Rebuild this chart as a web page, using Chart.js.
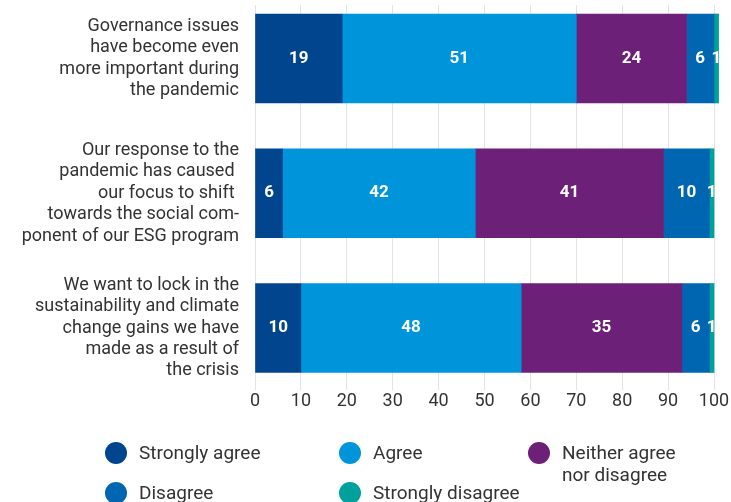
<!DOCTYPE html>
<html>
<head>
<meta charset="utf-8">
<script src="https://cdn.jsdelivr.net/npm/chart.js@4"></script>
<style>
  html, body { margin: 0; padding: 0; background: #fff; }
  body { width: 731px; height: 502px; position: relative; overflow: hidden; font-family: Roboto, sans-serif; }
  #wrap { position: absolute; left: 0; top: 0; width: 731px; height: 420px; }
  #legend { position: absolute; left: 0; top: 0; width: 731px; height: 502px; pointer-events: none; }
  .item { position: absolute; display: flex; align-items: flex-start; font-size: 19px; line-height: 22px; color: #333; }
  .dot { width: 22px; height: 22px; border-radius: 50%; margin-right: 12px; flex: none; }
</style>
</head>
<body>
<div id="wrap"><canvas id="c"></canvas></div>
<div id="legend"></div>
<script>
const questions = [
  ["Governance issues", "have become even", "more important during", "the pandemic"],
  ["Our response to the", "pandemic has caused ", "our focus to shift ", "towards the social com-", "ponent of our ESG program"],
  ["We want to lock in the", "sustainability and climate", "change gains we have", "made as a result of", "the crisis"]
];
const seriesNames = ["Strongly agree", "Agree", "Neither agree\nnor disagree", "Disagree", "Strongly disagree"];
const seriesColors = ["#00458E", "#0095DA", "#6D2077", "#0066B1", "#00A19C"];
const stronglyAgree = [19, 6, 10];
const agree = [51, 42, 48];
const neither = [24, 41, 35];
const disagree = [6, 10, 6];
const stronglyDisagree = [1, 1, 1];
const xTicks = [0, 10, 20, 30, 40, 50, 60, 70, 80, 90, 100];

const seriesValues = [stronglyAgree, agree, neither, disagree, stronglyDisagree];

// white value labels in the middle of each segment
const valueLabels = {
  id: "valueLabels",
  afterDatasetsDraw(chart) {
    const ctx = chart.ctx;
    ctx.save();
    ctx.fillStyle = "#fff";
    ctx.font = "bold 17px Roboto, sans-serif";
    ctx.textAlign = "center";
    ctx.textBaseline = "middle";
    chart.data.datasets.forEach((ds, i) => {
      chart.getDatasetMeta(i).data.forEach((bar, j) => {
        const p = bar.getCenterPoint();
        ctx.fillText(String(ds.data[j].x), p.x, p.y);
      });
    });
    ctx.restore();
  }
};

const chart = new Chart(document.getElementById("c"), {
  type: "bar",
  data: {
    datasets: seriesNames.map((name, i) => ({
      label: name,
      data: seriesValues[i].map((v, j) => ({ x: v, y: j })),
      backgroundColor: seriesColors[i],
      borderWidth: 0,
      barThickness: 89,
      clip: false
    }))
  },
  options: {
    indexAxis: "y",
    responsive: true, maintainAspectRatio: false,
    animation: false,
    layout: { padding: { top: 5, right: 17, left: 0, bottom: 0 } },
    plugins: { legend: { display: false }, tooltip: { enabled: false } },
    scales: {
      x: {
        type: "linear", stacked: true, min: 0, max: 100,
        afterBuildTicks: s => { s.ticks = xTicks.map(v => ({ value: v })); },
        afterFit: s => { s.height = 35; s.paddingLeft = 0; },
        grid: { color: "#e3e3e3", tickLength: 5 },
        border: { display: false },
        ticks: { color: "#333", padding: 1, font: { family: "Roboto", size: 18 } }
      },
      y: {
        type: "linear", stacked: true, reverse: true, offset: false,
        min: -0.397, max: 2.423,
        afterBuildTicks: s => { s.ticks = questions.map((q, i) => ({ value: i })); },
        afterFit: s => { s.width = 255; s.paddingTop = 0; s.paddingBottom = 0; },
        grid: { display: false, drawTicks: false },
        border: { display: false },
        ticks: {
          color: "#333", padding: 16,
          font: { family: "Roboto", size: 18, lineHeight: 1.19 },
          callback: v => questions[v]
        }
      }
    }
  },
  plugins: [valueLabels]
});

// html legend in a 3-column grid
const legendPos = [[105, 442], [339, 442], [528, 442], [105, 482], [339, 482]];
const legend = document.getElementById("legend");
chart.data.datasets.forEach((ds, i) => {
  const el = document.createElement("div");
  el.className = "item";
  el.style.left = legendPos[i][0] + "px";
  el.style.top = legendPos[i][1] + "px";
  const dot = document.createElement("span");
  dot.className = "dot";
  dot.style.background = ds.backgroundColor;
  const txt = document.createElement("span");
  txt.innerHTML = ds.label.replace("\n", "<br>");
  el.appendChild(dot);
  el.appendChild(txt);
  legend.appendChild(el);
});
</script>
</body>
</html>
